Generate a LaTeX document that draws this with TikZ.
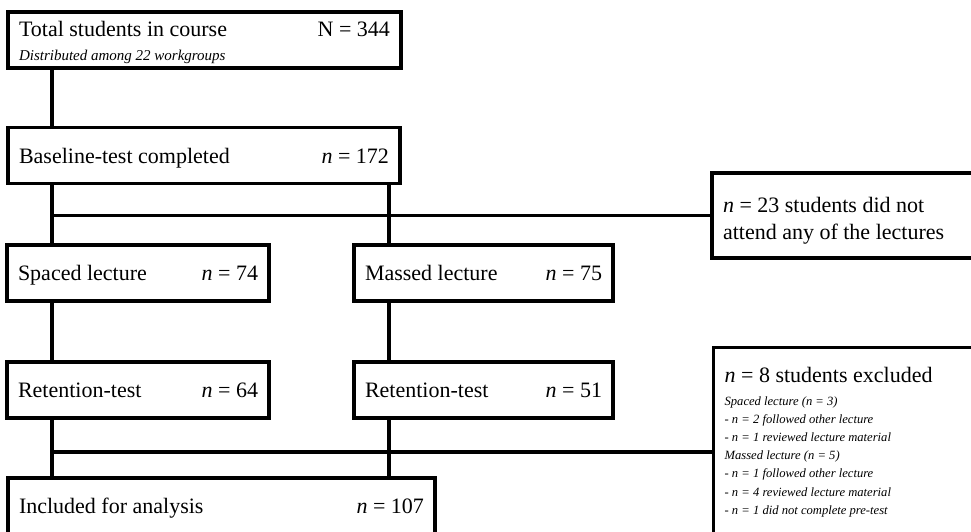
\documentclass[tikz,border=0pt]{standalone}
\usepackage{fontspec}
\setmainfont{Liberation Serif}
\usepackage{tikz}
\usetikzlibrary{positioning, calc}

\begin{document}
\begin{tikzpicture}[
  x=1pt, y=-1pt,
  box/.style={draw, line width=3.2pt, inner xsep=11pt, inner ysep=0pt, align=flush left, text depth=0pt, minimum height=56pt, font=\fontsize{22}{27}\selectfont},
  note/.style={draw, line width=3.2pt, inner xsep=11pt, inner ysep=20pt, align=flush left, font=\fontsize{12.6}{18.2}\selectfont\itshape},
  link/.style={line width=3.2pt}
]

% Canvas
\useasboundingbox (0,0) rectangle (971,531);
\clip (0,0) rectangle (971,531);

% Main flow
\node[box, text width=371pt, text height=20pt, text depth=28pt] (total) at (204.5,40) {Total students in course \hfill N = 344\\[-3pt]{\fontsize{15}{18}\selectfont\itshape Distributed among 22 workgroups}};
\node[box, text width=370pt] (base) at (204,155.5) {Baseline-test completed \hfill \textit{n} = 172};

% --- Lectures ---
\node[box, text width=240pt] (spaced) at (138,273) {Spaced lecture \hfill \textit{n} = 74};
\node[box, text width=237pt] (massed) at (483.5,273) {Massed lecture \hfill \textit{n} = 75};

% --- Retention ---
\node[box, text width=240pt] (retS) at (138,390) {Retention-test \hfill \textit{n} = 64};
\node[box, text width=237pt] (retM) at (483.5,390) {Retention-test \hfill \textit{n} = 51};

\node[box, text width=405pt] (incl) at (221.5,506) {Included for analysis \hfill \textit{n} = 107};

% --- Drop-outs ---
\node[box, text width=266pt, minimum height=85pt, text height=26pt, text depth=32pt] (attend) at (856,215.5) {\textit{n} = 23 students did not\\attend any of the lectures};
\node[note, anchor=north west, text width=266pt] (excl) at (712,346) {{\fontsize{22}{27}\selectfont\upshape\textit{n} = 8 students excluded}\\[4pt]
  Spaced lecture (n = 3)\\
  - n = 2 followed other lecture\\
  - n = 1 reviewed lecture material\\
  Massed lecture (n = 5)\\
  - n = 1 followed other lecture\\
  - n = 4 reviewed lecture material\\
  - n = 1 did not complete pre-test};

% Branch columns
\coordinate (lx) at (52,0);
\coordinate (rx) at (389,0);
\coordinate (join) at (52,452);

% --- Lines ---
\draw[link] (total.south -| lx) -- (base.north -| lx);
\draw[link] (base.south -| lx) -- (spaced.north -| lx);
\draw[link] (base.south -| rx) -- (massed.north -| rx);
\draw[link] (lx |- attend.west) -- (attend.west);
\draw[link] (spaced.south -| lx) -- (retS.north -| lx);
\draw[link] (massed.south -| rx) -- (retM.north -| rx);
\draw[link] (retS.south -| lx) -- (incl.north -| lx);
\draw[link] (retM.south -| rx) -- (incl.north -| rx);
\draw[link] (join) -- (join -| excl.west);

\end{tikzpicture}
\end{document}
